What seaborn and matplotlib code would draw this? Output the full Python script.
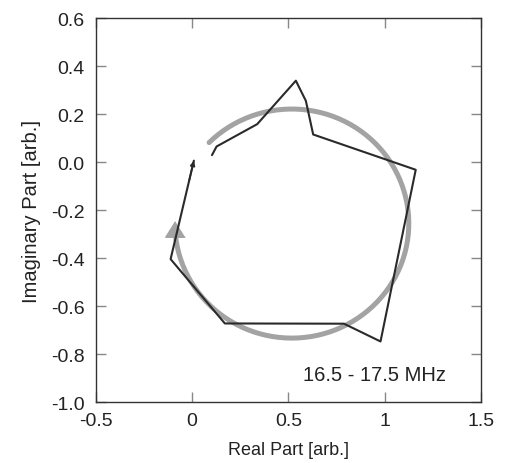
import numpy as np
import pandas as pd
import matplotlib.pyplot as plt
import seaborn as sns

re_part = [0.103, 0.127, 0.338, 0.539, 0.591, 0.629, 1.162, 0.979, 0.789, 0.170, -0.112, 0.009]
im_part = [0.029, 0.065, 0.158, 0.339, 0.255, 0.115, -0.032, -0.747, -0.673, -0.672, -0.404, 0.006]

# fitted circle (gray), centre / radii / arc angles in degrees
circ_center = (0.518, -0.256)
circ_radius = (0.608, 0.477)
circ_theta = (135.0, -176.0)

band_label = "16.5 - 17.5 MHz"
xticks = [-0.5, 0, 0.5, 1, 1.5]
xticklabels = ["-0.5", "0", "0.5", "1", "1.5"]
yticks = [0.6, 0.4, 0.2, 0.0, -0.2, -0.4, -0.6, -0.8, -1.0]
yticklabels = ["0.6", "0.4", "0.2", "0.0", "-0.2", "-0.4", "-0.6", "-0.8", "-1.0"]

sns.set_style("ticks")
plt.rcParams['font.family'] = ['Liberation Sans', 'DejaVu Sans']

fig = plt.figure(figsize=(5.05, 4.64), dpi=100)
ax = fig.add_axes([0.190, 0.131, 0.762, 0.828])

t = np.radians(np.linspace(circ_theta[0], circ_theta[1], 200))
arc = pd.DataFrame({'re': circ_center[0] + circ_radius[0] * np.cos(t),
                    'im': circ_center[1] + circ_radius[1] * np.sin(t)})
sns.lineplot(data=arc, x='re', y='im', sort=False, estimator=None,
             color='#a3a3a3', linewidth=3.6, ax=ax)
# arrow head at the end of the arc
tip_ang = np.radians(circ_theta[1])
ax.plot(circ_center[0] + circ_radius[0] * np.cos(tip_ang),
        circ_center[1] + circ_radius[1] * np.sin(tip_ang) + 0.012,
        marker=[(0, 0.8), (-1, -0.8), (1, -0.8)], markersize=14,
        color='#a3a3a3', linestyle='none')

traj = pd.DataFrame({'re': re_part, 'im': im_part})
sns.lineplot(data=traj, x='re', y='im', sort=False, estimator=None,
             color='#2a2a2a', linewidth=1.5, ax=ax)
ax.annotate('', xy=(re_part[-1], im_part[-1]),
            xytext=(re_part[-2] + 0.8 * (re_part[-1] - re_part[-2]),
                    im_part[-2] + 0.8 * (im_part[-1] - im_part[-2])),
            arrowprops=dict(arrowstyle='-|>', color='#2a2a2a', lw=1.2,
                            mutation_scale=7, shrinkA=0, shrinkB=0))

ax.text(0.947, -0.883, band_label, ha='center', va='center', fontsize=14.5, color='#222222')

ax.set_xlim(-0.5, 1.5)
ax.set_ylim(-1.0, 0.6)
ax.set_xticks(xticks)
ax.set_xticklabels(xticklabels)
ax.set_yticks(yticks)
ax.set_yticklabels(yticklabels)
ax.tick_params(direction='in', length=7, width=1, color='#888888',
               top=True, right=True, labelsize=14, labelcolor='#222222')
ax.tick_params(axis='y', pad=8)
ax.tick_params(axis='x', pad=7)
for sp in ax.spines.values():
    sp.set_color('#333333')
    sp.set_linewidth(1)
ax.set_xlabel('Real Part [arb.]', fontsize=13, color='#222222', labelpad=9)
ax.set_ylabel('Imaginary Part [arb.]', fontsize=14.5, color='#222222', labelpad=7)

fig.savefig('out.png', dpi=100)
